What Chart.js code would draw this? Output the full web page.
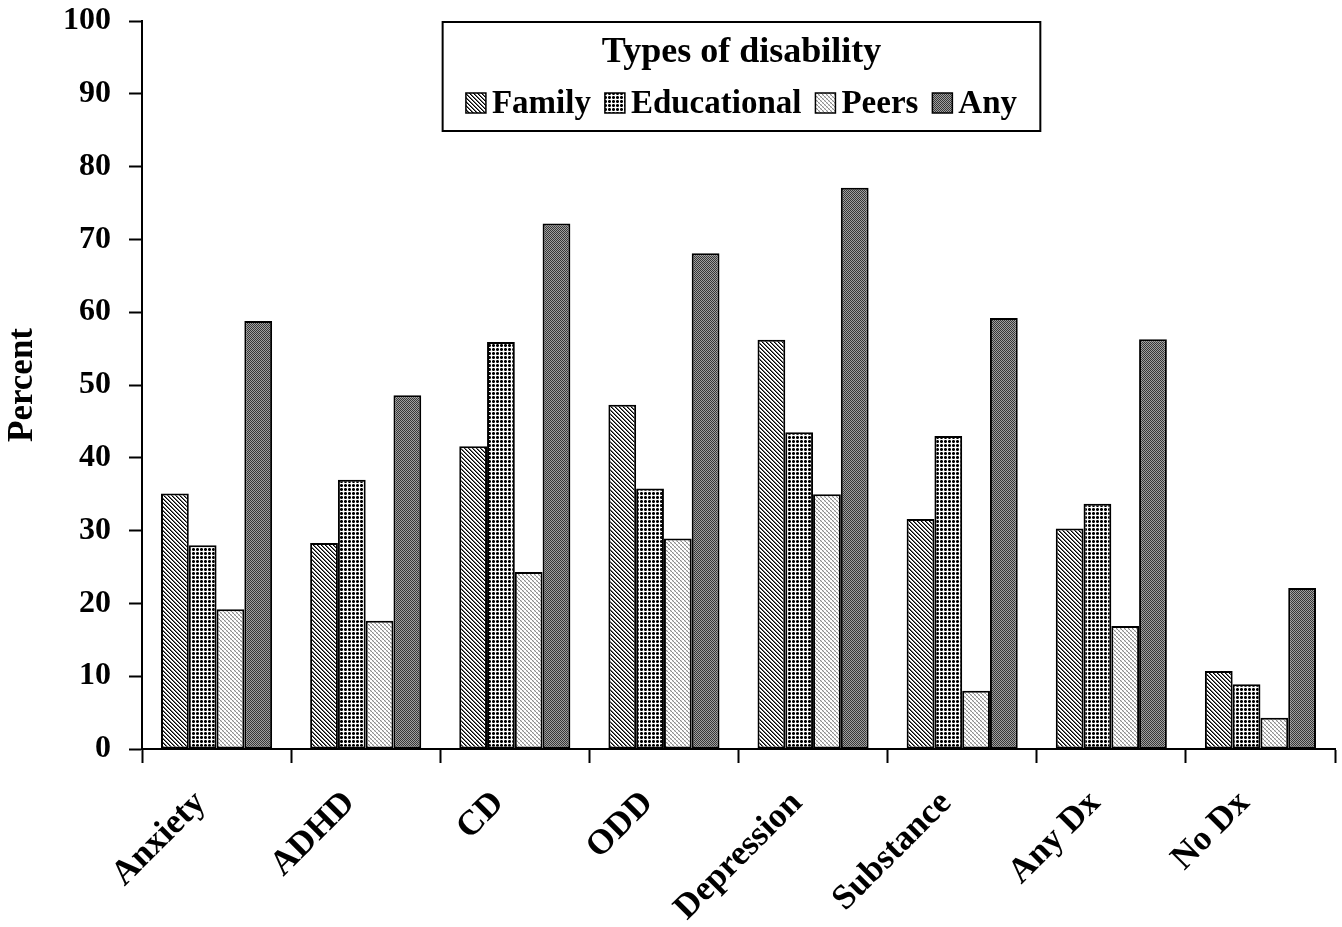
<!DOCTYPE html>
<html>
<head>
<meta charset="utf-8">
<title>Types of disability</title>
<script src="https://cdn.jsdelivr.net/npm/chart.js@4.4.1/dist/chart.umd.min.js"></script>
<style>
  html, body { margin: 0; padding: 0; background: #fff; }
  #wrap { width: 1342px; height: 927px; }
</style>
</head>
<body>
<div id="wrap"><canvas id="disability_chart"></canvas></div>
<script>
// data
const categories = ["Anxiety", "ADHD", "CD", "ODD", "Depression", "Substance", "Any Dx", "No Dx"];
const family_values = [35.1, 28.3, 41.6, 47.3, 56.2, 31.6, 30.3, 10.7];
const educational_values = [28.0, 37.0, 55.9, 35.8, 43.5, 43.0, 33.7, 8.9];
const peers_values = [19.2, 17.6, 24.3, 28.9, 35.0, 8.0, 16.9, 4.3];
const any_values = [58.8, 48.6, 72.2, 68.1, 77.1, 59.2, 56.3, 22.1];
const series_names = ["Family", "Educational", "Peers", "Any"];
const legend_title = "Types of disability";
const axis_title = "Percent";

const SERIF = "'Liberation Serif', 'Times New Roman', serif";

// small pixel tiles used as fill patterns (old black & white print look)
function makePattern(size, pixel) {
  const c = document.createElement("canvas");
  c.width = size;
  c.height = size;
  const g = c.getContext("2d");
  const img = g.createImageData(size, size);
  for (let y = 0; y < size; y++) {
    for (let x = 0; x < size; x++) {
      const v = pixel(x, y);
      const i = (y * size + x) * 4;
      img.data[i] = v;
      img.data[i + 1] = v;
      img.data[i + 2] = v;
      img.data[i + 3] = 255;
    }
  }
  g.putImageData(img, 0, 0);
  return g.createPattern(c, "repeat");
}

const family_fill = makePattern(4, (x, y) => {
  const d = (x - y + 8) % 4;
  return d === 0 ? 0 : d === 1 ? 110 : 255;
});
const educational_fill = makePattern(4, (x, y) => {
  const a = x % 4, b = y % 4;
  if (a === 3 || b === 3) return 255;
  if ((a === 0 || a === 2) && (b === 0 || b === 2)) return 100;
  return 0;
});
const peers_fill = makePattern(4, (x, y) => {
  const d = (x - y + 8) % 4;
  return d === 0 ? 140 : (x + y) % 4 === 1 ? 215 : 255;
});
const any_fill = makePattern(2, (x, y) => ((x + y) % 2 === 0 ? 55 : 160));

const fills = [family_fill, educational_fill, peers_fill, any_fill];
const value_lists = [family_values, educational_values, peers_values, any_values];

// legend drawn as a framed box inside the plot area
const boxLegend = {
  id: "boxLegend",
  afterDraw(chart) {
    const ctx = chart.ctx;
    const area = chart.chartArea;
    const w = area.right - area.left;
    const x0 = area.left + w * 0.252;
    const x1 = area.left + w * 0.753;
    const y0 = area.top + 1;
    const h = 109;

    ctx.save();
    ctx.fillStyle = "#fff";
    ctx.fillRect(x0, y0, x1 - x0, h);
    ctx.lineWidth = 2;
    ctx.strokeStyle = "#000";
    ctx.strokeRect(x0, y0, x1 - x0, h);

    const cx = (x0 + x1) / 2;
    ctx.fillStyle = "#000";
    ctx.textBaseline = "alphabetic";
    ctx.textAlign = "center";
    ctx.font = "bold 36px " + SERIF;
    ctx.fillText(legend_title, cx, y0 + 40);

    ctx.font = "bold 33px " + SERIF;
    ctx.textAlign = "left";
    const sw = 20, gap = 6, between = 14;
    const widths = chart.data.datasets.map((ds) => ctx.measureText(ds.label).width);
    let total = 0;
    widths.forEach((tw, i) => {
      total += sw + gap + tw + (i < widths.length - 1 ? between : 0);
    });
    let x = cx - total / 2;
    chart.data.datasets.forEach((ds, i) => {
      ctx.fillStyle = ds.backgroundColor;
      ctx.fillRect(x, y0 + 71, sw, sw);
      ctx.lineWidth = 1.5;
      ctx.strokeRect(x, y0 + 71, sw, sw);
      ctx.fillStyle = "#000";
      ctx.fillText(ds.label, x + sw + gap, y0 + 91);
      x += sw + gap + widths[i] + between;
    });
    ctx.restore();
  },
};

const ctx = document.getElementById("disability_chart").getContext("2d");

new Chart(ctx, {
  type: "bar",
  data: {
    labels: categories,
    datasets: series_names.map((name, i) => ({
      label: name,
      data: value_lists[i],
      backgroundColor: fills[i],
      borderColor: "#000",
      borderWidth: 2,
      borderSkipped: false,
      barPercentage: 1,
      categoryPercentage: 0.745,
    })),
  },
  options: {
    responsive: true,
    maintainAspectRatio: false,
    animation: false,
    layout: { padding: { top: 21, right: 7, left: 0, bottom: 0 } },
    plugins: {
      legend: { display: false },
      tooltip: { enabled: false },
    },
    scales: {
      x: {
        grid: {
          display: true,
          drawOnChartArea: false,
          offset: true,
          tickLength: 14,
          tickWidth: 2,
          tickColor: "#000",
        },
        border: { color: "#000", width: 2 },
        ticks: {
          color: "#000",
          font: { family: SERIF, size: 35, weight: "bold" },
          minRotation: 45,
          maxRotation: 45,
          padding: 20,
          labelOffset: -16,
        },
        afterFit(scale) {
          scale.height = 178;
          scale.paddingLeft = 0;
          scale.paddingRight = 0;
        },
      },
      y: {
        min: 0,
        max: 100,
        grid: {
          display: true,
          drawOnChartArea: false,
          tickLength: 13,
          tickWidth: 2,
          tickColor: "#000",
        },
        border: { color: "#000", width: 2 },
        ticks: {
          stepSize: 10,
          color: "#000",
          padding: 18,
          font: { family: SERIF, size: 32, weight: "bold" },
        },
        title: {
          display: true,
          text: axis_title,
          color: "#000",
          font: { family: SERIF, size: 35, weight: "bold" },
          padding: { top: 2, bottom: 0 },
        },
        afterFit(scale) {
          scale.width = 142;
          scale.paddingTop = 0;
          scale.paddingBottom = 0;
        },
      },
    },
  },
  plugins: [boxLegend],
});
</script>
</body>
</html>
